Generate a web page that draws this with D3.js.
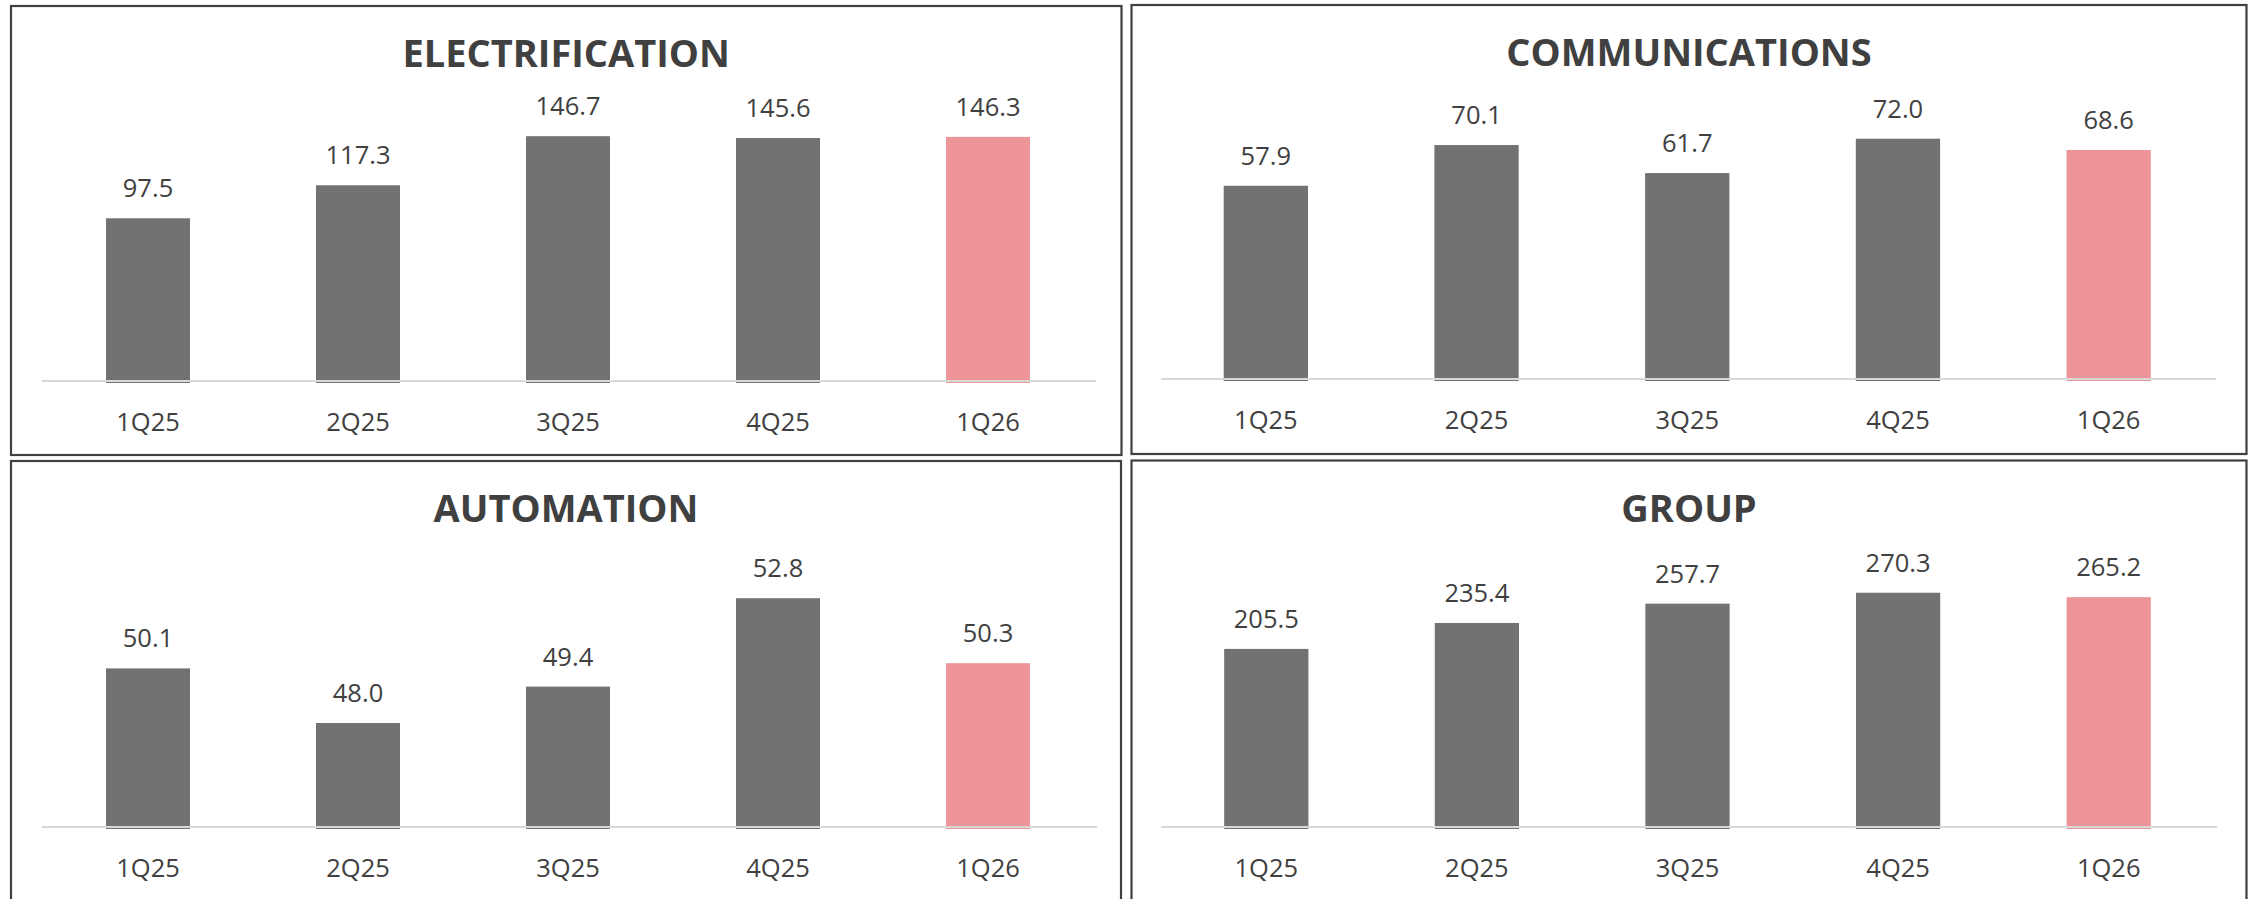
<!DOCTYPE html>
<html>
<head>
<meta charset="utf-8">
<script src="https://cdn.jsdelivr.net/npm/d3@7"></script>
<style>
  html, body { margin: 0; padding: 0; background: #ffffff; }
  svg { display: block; }
  text { font-family: "Open Sans", "Noto Sans", sans-serif; }
</style>
</head>
<body>
<svg id="chart" width="2252" height="899"></svg>
<script>
// ---- Data ----
const categories = ["1Q25", "2Q25", "3Q25", "4Q25", "1Q26"];
const titles = ["ELECTRIFICATION", "COMMUNICATIONS", "AUTOMATION", "GROUP"];
const electrification = [97.5, 117.3, 146.7, 145.6, 146.3];
const communications = [57.9, 70.1, 61.7, 72.0, 68.6];
const automation = [50.1, 48.0, 49.4, 52.8, 50.3];
const group = [205.5, 235.4, 257.7, 270.3, 265.2];
const axisMin = [0, 0, 44, 0];
const axisMax = [160, 80, 54, 300];
const seriesList = [electrification, communications, automation, group];

// ---- Layout / style ----
const GREY = "#727272";
const PINK = "#EC9497";
const TEXT = "#404040";
const panels = [
  { x0: 11, y0: 6,   x1: 1121.5, y1: 455,  ax0: 42,   ax1: 1096, bx0: 43,     bx1: 1093,   base: 381, ph: 267 },
  { x0: 1131.5, y0: 5, x1: 2246.5, y1: 454, ax0: 1161, ax1: 2216, bx0: 1160.5, bx1: 2214,   base: 379, ph: 267 },
  { x0: 11, y0: 461, x1: 1121, y1: 920,    ax0: 42,   ax1: 1097, bx0: 43,     bx1: 1093,   base: 827, ph: 260 },
  { x0: 1131.5, y0: 460.5, x1: 2246.5, y1: 920, ax0: 1161, ax1: 2217, bx0: 1161,   bx1: 2214,   base: 827, ph: 260 }
];

const svg = d3.select("#chart");

panels.forEach((p, i) => {
  const g = svg.append("g");
  const values = seriesList[i];

  // frame
  g.append("rect")
    .attr("x", p.x0).attr("y", p.y0)
    .attr("width", p.x1 - p.x0).attr("height", p.y1 - p.y0)
    .attr("fill", "#ffffff")
    .attr("stroke", "#404040").attr("stroke-width", 2.2);

  // title
  g.append("text")
    .attr("x", (p.x0 + p.x1) / 2)
    .attr("y", p.y0 + 61)
    .attr("text-anchor", "middle")
    .attr("font-size", 38)
    .attr("font-weight", 700)
    .attr("fill", TEXT)
    .text(titles[i]);

  const x = d3.scaleBand().domain(categories).range([p.bx0, p.bx1]).paddingInner(0.6).paddingOuter(0.3);
  const y = d3.scaleLinear().domain([axisMin[i], axisMax[i]]).range([p.base, p.base - p.ph]);

  // bars
  g.selectAll("rect.bar").data(values).enter().append("rect")
    .attr("class", "bar")
    .attr("x", (d, j) => x(categories[j]))
    .attr("width", x.bandwidth())
    .attr("y", d => y(d))
    .attr("height", d => p.base - y(d) + 2)
    .attr("fill", (d, j) => j === categories.length - 1 ? PINK : GREY);

  // axis line
  g.append("line")
    .attr("x1", p.ax0).attr("x2", p.ax1)
    .attr("y1", p.base).attr("y2", p.base)
    .attr("stroke", "#d9d9d9").attr("stroke-width", 2);

  // value labels
  g.selectAll("text.val").data(values).enter().append("text")
    .attr("class", "val")
    .attr("x", (d, j) => x(categories[j]) + x.bandwidth() / 2)
    .attr("y", d => y(d) - 21)
    .attr("text-anchor", "middle")
    .attr("font-size", 25.5)
    .attr("fill", TEXT)
    .text(d => d3.format(".1f")(d));

  // category labels
  const axis = d3.axisBottom(x).tickSize(0).tickPadding(0);
  const ag = g.append("g").attr("transform", `translate(0,${p.base})`).call(axis);
  ag.select(".domain").remove();
  ag.selectAll("text")
    .attr("y", 50).attr("dy", 0)
    .attr("font-size", 25.5)
    .attr("font-family", "'Open Sans', 'Noto Sans', sans-serif")
    .attr("fill", TEXT);
});
</script>
</body>
</html>
